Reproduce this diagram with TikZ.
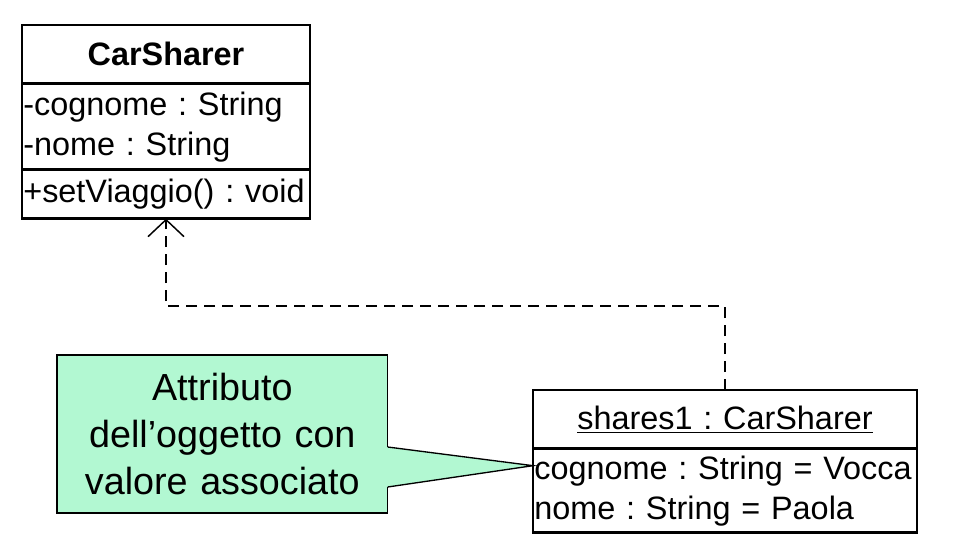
\documentclass[tikz,border=0pt]{standalone}
\usepackage{fontspec}
\setmainfont{Liberation Sans}
\usepackage{tikz}
\usetikzlibrary{
  arrows.meta,
  positioning,
  calc
}
\frenchspacing
\definecolor{NoteMint}{HTML}{B2F8D2}
\tikzset{
  % UML compartment: fixed width, fixed height
  part/.style={
    rectangle, draw=black, line width=2pt, outer sep=0pt,
    text width=#1, inner xsep=1pt, inner ysep=0pt,
    align=left, font=\fontsize{24.3}{30}\selectfont
  },
  % Compartment holding a name
  head/.style={part=#1, align=center, minimum height=44pt},
  % Note box
  note/.style={
    rectangle, draw=black, line width=1pt, outer sep=0pt, fill=NoteMint,
    text width=244pt, minimum height=118.5pt, inner xsep=2pt,
    align=center, font=\fontsize{28.3}{35}\selectfont
  },
  % Dependency arrow
  dep/.style={
    -{Straight Barb[length=12.75pt,width=27pt,line width=1.1pt]},
    line width=1.5pt, dash pattern=on 8pt off 5.5pt
  }
}
\begin{document}
\begin{tikzpicture}
  \useasboundingbox (0,0) rectangle (718.5pt,-415.5pt);
  % class
  \node[head=214pt, anchor=north west] (cstitle) at (16.5pt,-18.75pt) {\textbf{CarSharer}};
  \node[part=214pt, minimum height=64.5pt, below=0pt of cstitle] (csattr) {-cognome : String\\-nome : String};
  \node[part=214pt, minimum height=36.75pt, below=0pt of csattr] (csops) {+setViaggio() : void};
  % object
  \node[head=286pt, anchor=north west] (objtitle) at (399.75pt,-292.5pt) {\underline{shares1 : CarSharer}};
  \node[part=286pt, minimum height=63pt, below=0pt of objtitle] (objattr) {cognome : String = Vocca\\nome : String = Paola};
  % instance-of dependency
  \coordinate (bend) at (0,-229.5pt);
  \draw[dep] (objtitle.north) -- (objtitle.north |- bend) -- (csops.south |- bend) -- (csops.south);
  % note with callout
  \node[note, anchor=north west] (note) at (42.75pt,-266.25pt) {Attributo\\dell’oggetto con\\valore associato};
  \coordinate (tip) at ($(objattr.north west)+(0,-12.75pt)$);
  \coordinate (wtop) at ($(note.north east)+(0,-69pt)$);
  \coordinate (wbot) at ($(note.north east)+(0,-99pt)$);
  \fill[NoteMint] ($(wtop)+(-1pt,0)$) -- (tip) -- ($(wbot)+(-1pt,0)$) -- cycle;
  \draw[line width=1pt] (wtop) -- (tip) -- (wbot);
\end{tikzpicture}
\end{document}
